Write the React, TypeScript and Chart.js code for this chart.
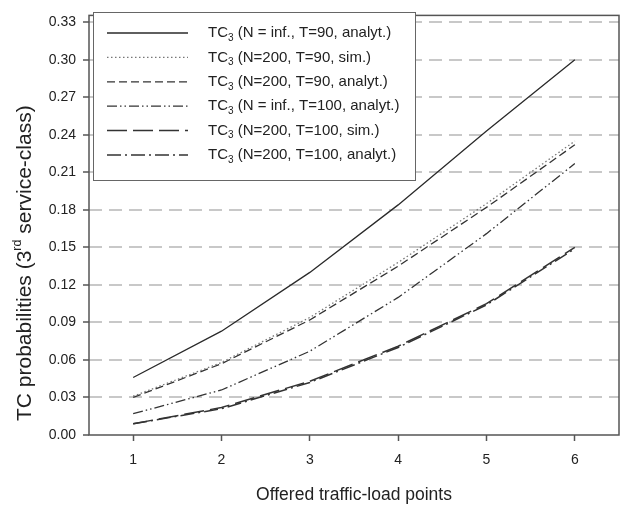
import React, { useEffect, useRef } from "react";
import { Chart, registerables } from "chart.js";

Chart.register(...registerables);

// ---- data ----
const loadPoints = [1, 2, 3, 4, 5, 6];
const yTickValues = [0, 0.03, 0.06, 0.09, 0.12, 0.15, 0.18, 0.21, 0.24, 0.27, 0.3, 0.33];
const seriesNames = [
  "(N = inf., T=90, analyt.)",
  "(N=200, T=90, sim.)",
  "(N=200, T=90, analyt.)",
  "(N = inf., T=100, analyt.)",
  "(N=200, T=100, sim.)",
  "(N=200, T=100, analyt.)",
];
const infT90Analyt = [0.046, 0.083, 0.13, 0.184, 0.243, 0.3];
const n200T90Sim = [0.031, 0.058, 0.094, 0.138, 0.185, 0.235];
const n200T90Analyt = [0.03, 0.057, 0.092, 0.135, 0.182, 0.232];
const infT100Analyt = [0.017, 0.036, 0.067, 0.11, 0.161, 0.217];
const n200T100Sim = [0.009, 0.022, 0.043, 0.071, 0.105, 0.15];
const n200T100Analyt = [0.009, 0.021, 0.042, 0.07, 0.104, 0.149];
const xTitle = "Offered traffic-load points";
const yTitleParts = ["TC probabilities (3", "rd", " service-class)"];

const FONT = "'Liberation Sans', Arial, Helvetica, sans-serif";

const seriesValues = [infT90Analyt, n200T90Sim, n200T90Analyt, infT100Analyt, n200T100Sim, n200T100Analyt];
const seriesStyles = [
  { color: "#2a2a2a", width: 1.3, dash: [] as number[] },
  { color: "#777777", width: 1.3, dash: [1.5, 2.5] },
  { color: "#333333", width: 1.3, dash: [8, 4] },
  { color: "#333333", width: 1.3, dash: [10, 3, 1.5, 3, 1.5, 3] },
  { color: "#333333", width: 1.5, dash: [20, 6] },
  { color: "#333333", width: 1.5, dash: [14, 4, 2, 4] },
];

const legendPlugin = {
  id: "customLegend",
  afterDatasetsDraw(chart: any) {
    const ctx = chart.ctx as CanvasRenderingContext2D;
    const box = { l: 93.5, t: 12.5, r: 415.5, b: 180.5 };
    ctx.save();
    ctx.fillStyle = "#ffffff";
    ctx.fillRect(box.l, box.t, box.r - box.l, box.b - box.t);
    ctx.strokeStyle = "#666666";
    ctx.lineWidth = 1;
    ctx.strokeRect(box.l, box.t, box.r - box.l, box.b - box.t);
    chart.data.datasets.forEach((ds: any, i: number) => {
      const y = 33 + i * 24.4;
      ctx.save();
      ctx.strokeStyle = ds.borderColor;
      ctx.lineWidth = ds.borderWidth;
      ctx.setLineDash(ds.borderDash || []);
      ctx.beginPath();
      ctx.moveTo(107, y);
      ctx.lineTo(188, y);
      ctx.stroke();
      ctx.restore();
      const label: string = ds.label;
      const head = label.slice(0, 2);
      const sub = "3";
      const rest = label.slice(3);
      ctx.fillStyle = "#222222";
      ctx.textBaseline = "middle";
      ctx.textAlign = "left";
      let x = 208;
      ctx.font = `15px ${FONT}`;
      ctx.fillText(head, x, y);
      x += ctx.measureText(head).width;
      ctx.font = `10px ${FONT}`;
      ctx.fillText(sub, x, y + 5);
      x += ctx.measureText(sub).width;
      ctx.font = `15px ${FONT}`;
      ctx.fillText(rest, x, y);
    });
    ctx.restore();
  },
};

const framePlugin = {
  id: "frame",
  afterDatasetsDraw(chart: any) {
    const ctx = chart.ctx as CanvasRenderingContext2D;
    const a = chart.chartArea;
    ctx.save();
    ctx.strokeStyle = "#555555";
    ctx.lineWidth = 1.5;
    ctx.strokeRect(a.left, a.top, a.right - a.left, a.bottom - a.top);
    ctx.restore();
  },
  afterDraw(chart: any) {
    const ctx = chart.ctx as CanvasRenderingContext2D;
    const a = chart.chartArea;
    ctx.save();
    ctx.translate(25, (a.top + a.bottom) / 2 + 38);
    ctx.rotate(-Math.PI / 2);
    ctx.fillStyle = "#222222";
    ctx.textBaseline = "middle";
    ctx.textAlign = "left";
    const big = `21px ${FONT}`;
    const small = `12.5px ${FONT}`;
    ctx.font = big;
    const w1 = ctx.measureText(yTitleParts[0]).width;
    const w3 = ctx.measureText(yTitleParts[2]).width;
    ctx.font = small;
    const w2 = ctx.measureText(yTitleParts[1]).width;
    let x = -(w1 + w2 + w3) / 2;
    ctx.font = big;
    ctx.fillText(yTitleParts[0], x, 0);
    x += w1;
    ctx.font = small;
    ctx.fillText(yTitleParts[1], x, -7);
    x += w2;
    ctx.font = big;
    ctx.fillText(yTitleParts[2], x, 0);
    ctx.restore();
  },
};

export default function App() {
  const ref = useRef<HTMLCanvasElement>(null);
  useEffect(() => {
    const canvas = ref.current;
    if (!canvas) return;
    const chart = new Chart(canvas, {
      type: "line",
      data: {
        datasets: seriesValues.map((vals, i) => ({
          label: "TC₃ " + seriesNames[i],
          data: loadPoints.map((x, j) => ({ x, y: vals[j] })),
          borderColor: seriesStyles[i].color,
          borderWidth: seriesStyles[i].width,
          borderDash: seriesStyles[i].dash,
          pointRadius: 0,
          tension: 0,
          fill: false,
        })),
      },
      options: {
        responsive: false,
        animation: false,
        layout: { padding: { left: 0, right: 5, top: 8, bottom: 0 } },
        plugins: {
          legend: { display: false },
          tooltip: { enabled: false },
        },
        scales: {
          x: {
            type: "linear",
            min: 0.5,
            max: 6.5,
            afterBuildTicks: (s: any) => {
              s.ticks = loadPoints.map((v) => ({ value: v }));
            },
            afterFit: (s: any) => {
              s.height = 76;
            },
            grid: {
              drawOnChartArea: false,
              drawTicks: true,
              tickLength: 6,
              tickColor: "#555555",
              tickWidth: 1.5,
            },
            border: { display: false },
            ticks: {
              padding: 11,
              color: "#222222",
              font: { family: FONT, size: 14 },
              callback: (v: any) => String(v),
            },
            title: {
              display: true,
              text: xTitle,
              color: "#222222",
              font: { family: FONT, size: 17.5 },
              padding: { top: 0, bottom: 5 },
            },
          },
          y: {
            type: "linear",
            min: 0,
            max: 0.3355,
            afterBuildTicks: (s: any) => {
              s.ticks = yTickValues.map((v) => ({ value: v }));
            },
            afterFit: (s: any) => {
              s.width = 89;
            },
            grid: {
              drawOnChartArea: true,
              drawTicks: true,
              tickLength: 6,
              tickColor: "#555555",
              tickWidth: 1.5,
              lineWidth: 2,
              color: (c: any) => (c.tick && c.tick.value === 0 ? "rgba(0,0,0,0)" : "#c8c8c8"),
            },
            border: { display: false, dash: [13, 7] },
            ticks: {
              padding: 7,
              color: "#222222",
              font: { family: FONT, size: 14 },
              callback: (v: any) => Number(v).toFixed(2),
            },
          },
        },
      },
      plugins: [framePlugin, legendPlugin],
    });
    return () => chart.destroy();
  }, []);
  return (
    <div style={{ position: "absolute", left: 0, top: 0, width: 624, height: 511, background: "#fff" }}>
      <canvas ref={ref} width={624} height={511} style={{ width: 624, height: 511, display: "block" }} />
    </div>
  );
}
